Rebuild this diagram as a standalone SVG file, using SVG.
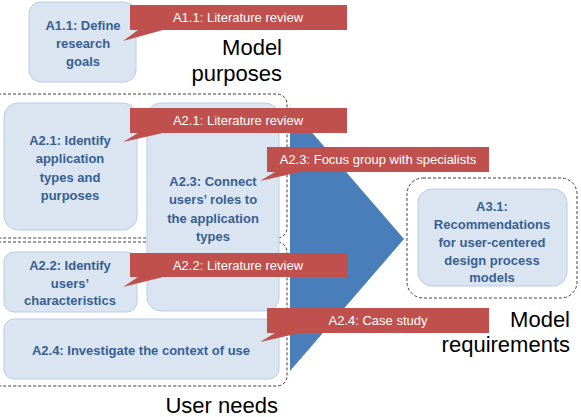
<svg xmlns="http://www.w3.org/2000/svg" width="581" height="417" viewBox="0 0 581 417">
<style>
.grp{fill:none;stroke:#404040;stroke-width:1;stroke-dasharray:3 2}
.box{fill:#dbe5f1;stroke:#b9cde5;stroke-width:1}
.bt{font-family:"Liberation Sans",Arial,sans-serif;font-weight:bold;font-size:13px;fill:#376092;text-anchor:middle}
.co{fill:#c0504d}
.ct{font-family:"Liberation Sans",Arial,sans-serif;font-size:13px;fill:#ffffff;text-anchor:middle}
.lb{font-family:"Liberation Sans",Arial,sans-serif;font-size:22px;fill:#000000;text-anchor:end}
</style>
<rect width="581" height="417" fill="#ffffff"/>
<g id="group-purposes-needs">
<rect class="grp" x="-12" y="94" width="299" height="144" rx="10"/>
<rect class="grp" x="-12" y="242" width="299" height="144" rx="10"/>
</g>
<g id="group-requirements">
<rect class="grp" x="407" y="178" width="170" height="120" rx="16"/>
</g>
<g id="connectors">
<polygon points="290,107 404,239 290,371" fill="#4a7ebb"/>
</g>
<g id="A1.1">
<rect class="box" x="29" y="2" width="107" height="80" rx="12"/>
<text class="bt" x="83" y="30">A1.1: Define</text>
<text class="bt" x="83" y="48">research</text>
<text class="bt" x="83" y="66">goals</text>
</g>
<g id="A2.1">
<rect class="box" x="4" y="103" width="133" height="127" rx="14"/>
<text class="bt" x="70" y="145">A2.1: Identify</text>
<text class="bt" x="70" y="163">application</text>
<text class="bt" x="70" y="182">types and</text>
<text class="bt" x="70" y="200">purposes</text>
</g>
<g id="A2.3">
<rect class="box" x="147" y="103" width="132" height="208" rx="14"/>
<text class="bt" x="213" y="186">A2.3: Connect</text>
<text class="bt" x="213" y="204">users’ roles to</text>
<text class="bt" x="213" y="223">the application</text>
<text class="bt" x="213" y="241">types</text>
</g>
<g id="A2.2">
<rect class="box" x="4" y="252" width="133" height="60" rx="10"/>
<text class="bt" x="70" y="270">A2.2: Identify</text>
<text class="bt" x="70" y="288">users’</text>
<text class="bt" x="70" y="305">characteristics</text>
</g>
<g id="A2.4">
<rect class="box" x="4" y="319" width="275" height="60" rx="10"/>
<text class="bt" x="141" y="355">A2.4: Investigate the context of use</text>
</g>
<g id="A3.1">
<rect class="box" x="418" y="189" width="149" height="97" rx="14"/>
<text class="bt" x="492" y="211">A3.1:</text>
<text class="bt" x="492" y="229">Recommendations</text>
<text class="bt" x="492" y="247">for user-centered</text>
<text class="bt" x="492" y="265">design process</text>
<text class="bt" x="492" y="282">models</text>
</g>
<g id="callout-A1.1">
<path class="co" d="M130,5 H347 V30 H163 L123,41 L138,30 H130 Z"/>
<text class="ct" x="238" y="22">A1.1: Literature review</text>
</g>
<g id="callout-A2.1">
<path class="co" d="M130,108 H347 V133 H163 L123,142 L138,133 H130 Z"/>
<text class="ct" x="238" y="125">A2.1: Literature review</text>
</g>
<g id="callout-A2.3">
<path class="co" d="M267,147 H489 V172 H300 L260,181 L275,172 H267 Z"/>
<text class="ct" x="378" y="164">A2.3: Focus group with specialists</text>
</g>
<g id="callout-A2.2">
<path class="co" d="M130,253 H347 V277 H163 L123,287 L138,277 H130 Z"/>
<text class="ct" x="238" y="270">A2.2: Literature review</text>
</g>
<g id="callout-A2.4">
<path class="co" d="M267,308 H489 V333 H300 L260,342 L275,333 H267 Z"/>
<text class="ct" x="378" y="325">A2.4: Case study</text>
</g>
<g id="labels">
<text class="lb" x="282" y="55">Model</text>
<text class="lb" x="282" y="81">purposes</text>
<text class="lb" x="570" y="327">Model</text>
<text class="lb" x="570" y="352">requirements</text>
<text class="lb" x="278" y="413">User needs</text>
</g>
</svg>
